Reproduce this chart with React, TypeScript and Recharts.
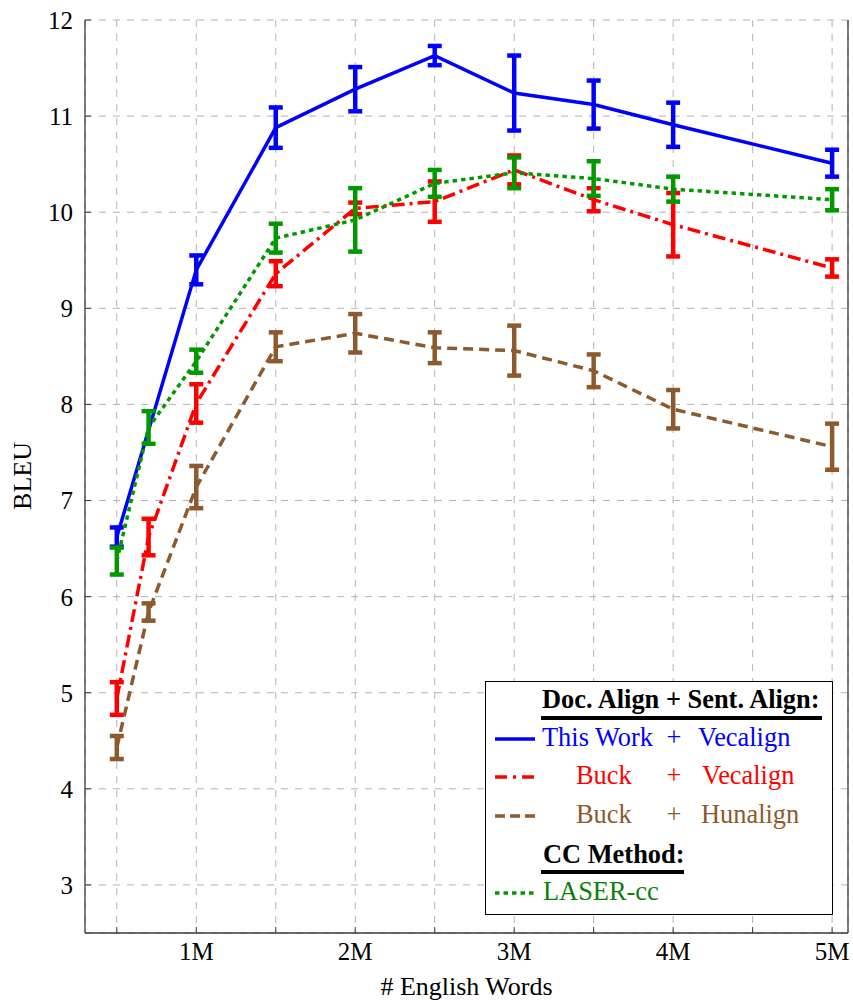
import React from 'react';
import { LineChart, Line, XAxis, YAxis, CartesianGrid, ErrorBar } from 'recharts';

// x positions (millions of English words)
const xValues = [0.5, 0.7, 1, 1.5, 2, 2.5, 3, 3.5, 4, 5];

// This Work + Vecalign (no visible point at 0.7M)
const thisWorkVecalign = [6.62, null, 9.4, 10.88, 11.28, 11.63, 11.24, 11.12, 10.91, 10.51];
const thisWorkVecalignErr = [0.1, null, 0.15, 0.21, 0.23, 0.1, 0.39, 0.25, 0.23, 0.14];

// Buck + Vecalign
const buckVecalign = [4.94, 6.62, 8.01, 9.36, 10.04, 10.11, 10.44, 10.13, 9.87, 9.42];
const buckVecalignErr = [0.17, 0.19, 0.2, 0.13, 0.06, 0.21, 0.15, 0.12, 0.33, 0.09];

// Buck + Hunalign
const buckHunalign = [4.43, 5.84, 7.14, 8.6, 8.74, 8.59, 8.56, 8.35, 7.95, 7.56];
const buckHunalignErr = [0.12, 0.09, 0.22, 0.15, 0.2, 0.16, 0.26, 0.17, 0.2, 0.24];

// LASER-cc
const laserCc = [6.37, 7.76, 8.45, 9.73, 9.92, 10.3, 10.41, 10.35, 10.24, 10.13];
const laserCcErr = [0.14, 0.17, 0.12, 0.15, 0.33, 0.14, 0.16, 0.18, 0.13, 0.11];

const xTicks = [0.5, 1, 1.5, 2, 2.5, 3, 3.5, 4, 4.5, 5];
const yTicks = [3, 4, 5, 6, 7, 8, 9, 10, 11, 12];

const data = xValues.map((x, i) => ({
  x,
  tw: thisWorkVecalign[i],
  twErr: thisWorkVecalignErr[i],
  bv: buckVecalign[i],
  bvErr: buckVecalignErr[i],
  bh: buckHunalign[i],
  bhErr: buckHunalignErr[i],
  lc: laserCc[i],
  lcErr: laserCcErr[i],
}));

const BLUE = '#0000ff';
const RED = '#ff0000';
const BROWN = '#8c5a2d';
const GREEN = '#009900';
const GREEN_TEXT = '#0a800a';
const FONT = '"Liberation Serif", "Times New Roman", serif';
const FS = 25;
const LFS = 26.4;
const AXIS = '#3a3a3a';

const tickStyle = { fontFamily: FONT, fontSize: FS, fill: '#000' };

const BleuLabel = () => (
  <text
    x={22}
    y={476}
    transform="rotate(-90 22 476)"
    textAnchor="middle"
    dominantBaseline="central"
    style={{ fontFamily: FONT, fontSize: 26, fill: '#000' }}
  >
    BLEU
  </text>
);

const Legend = () => (
  <svg
    width={349}
    height={235}
    style={{ position: 'absolute', left: 485, top: 681, overflow: 'visible' }}
  >
    <rect x={0.5} y={0.5} width={347} height={233} fill="#fff" stroke="#000" strokeWidth={1} />
    <g style={{ fontFamily: FONT, fontSize: LFS }}>
      <text x={57} y={27} fontWeight="bold" fill="#000">Doc. Align + Sent. Align:</text>
      <rect x={56} y={35} width={281} height={4} fill="#000" />

      <line x1={10} x2={50} y1={58} y2={58} stroke={BLUE} strokeWidth={3.5} />
      <text x={57} y={65} fill={BLUE}>This Work</text>
      <text x={189} y={65} fill={BLUE} textAnchor="middle">+</text>
      <text x={213} y={65} fill={BLUE}>Vecalign</text>

      <line x1={10} x2={50} y1={96} y2={96} stroke={RED} strokeWidth={3.5} strokeDasharray="12 6 3 6" />
      <text x={91} y={103} fill={RED}>Buck</text>
      <text x={189} y={103} fill={RED} textAnchor="middle">+</text>
      <text x={217} y={103} fill={RED}>Vecalign</text>

      <line x1={10} x2={50} y1={135} y2={135} stroke={BROWN} strokeWidth={3.5} strokeDasharray="10 5" />
      <text x={91} y={142} fill={BROWN}>Buck</text>
      <text x={189} y={142} fill={BROWN} textAnchor="middle">+</text>
      <text x={216} y={142} fill={BROWN}>Hunalign</text>

      <text x={58} y={182} fontWeight="bold" fill="#000">CC Method:</text>
      <rect x={56} y={189} width={143} height={4} fill="#000" />

      <line x1={10} x2={50} y1={212} y2={212} stroke={GREEN} strokeWidth={3.5} strokeDasharray="4.5 4" />
      <text x={58} y={219} fill={GREEN_TEXT}>LASER-cc</text>
    </g>
  </svg>
);

export default function App() {
  return (
    <div style={{ position: 'absolute', left: 0, top: 0, width: 853, height: 1000, background: '#fff' }}>
      <LineChart
        width={853}
        height={1000}
        data={data}
        margin={{ top: 20, right: 0, bottom: 0, left: 0 }}
      >
        <CartesianGrid stroke="#b3b3b3" strokeDasharray="7 7" strokeWidth={1} xAxisId="bottom" yAxisId="left" />
        <XAxis
          xAxisId="bottom"
          dataKey="x"
          type="number"
          domain={[0.3, 5.1]}
          ticks={xTicks}
          allowDataOverflow
          height={67}
          tickFormatter={(v: number) => (Number.isInteger(v) ? `${v}M` : '')}
          tick={tickStyle}
          tickSize={-6}
          tickMargin={15}
          tickLine={{ stroke: AXIS }}
          axisLine={{ stroke: AXIS, strokeWidth: 1.3 }}
          label={{ value: '# English Words', position: 'insideBottom', offset: 5, style: { fontFamily: FONT, fontSize: 26, fill: '#000' } }}
        />
        <XAxis
          xAxisId="top"
          orientation="top"
          dataKey="x"
          type="number"
          domain={[0.3, 5.1]}
          ticks={xTicks}
          allowDataOverflow
          height={0}
          tick={false}
          tickSize={-6}
          tickLine={{ stroke: AXIS }}
          axisLine={{ stroke: AXIS, strokeWidth: 1.3 }}
        />
        <YAxis
          yAxisId="left"
          type="number"
          domain={[2.5, 12]}
          ticks={yTicks}
          allowDataOverflow
          width={85}
          tick={tickStyle}
          tickSize={-6}
          tickMargin={18}
          tickLine={{ stroke: AXIS }}
          axisLine={{ stroke: AXIS, strokeWidth: 1.3 }}
          label={<BleuLabel />}
        />
        <YAxis
          yAxisId="right"
          orientation="right"
          type="number"
          domain={[2.5, 12]}
          ticks={yTicks}
          allowDataOverflow
          width={5}
          tick={false}
          tickSize={-6}
          tickLine={{ stroke: AXIS }}
          axisLine={{ stroke: AXIS, strokeWidth: 1.3 }}
        />
        <Line
          xAxisId="bottom"
          yAxisId="left"
          type="linear"
          dataKey="tw"
          stroke={BLUE}
          strokeWidth={3.5}
          dot={false}
          connectNulls
          isAnimationActive={false}
        >
          <ErrorBar dataKey="twErr" direction="y" width={7} stroke={BLUE} strokeWidth={4.5} />
        </Line>
        <Line
          xAxisId="bottom"
          yAxisId="left"
          type="linear"
          dataKey="bv"
          stroke={RED}
          strokeWidth={3.5}
          strokeDasharray="13 5 3 5"
          dot={false}
          isAnimationActive={false}
        >
          <ErrorBar dataKey="bvErr" direction="y" width={7} stroke={RED} strokeWidth={4.5} />
        </Line>
        <Line
          xAxisId="bottom"
          yAxisId="left"
          type="linear"
          dataKey="bh"
          stroke={BROWN}
          strokeWidth={3.5}
          strokeDasharray="10 6"
          dot={false}
          isAnimationActive={false}
        >
          <ErrorBar dataKey="bhErr" direction="y" width={7} stroke={BROWN} strokeWidth={4.5} />
        </Line>
        <Line
          xAxisId="bottom"
          yAxisId="left"
          type="linear"
          dataKey="lc"
          stroke={GREEN}
          strokeWidth={3.5}
          strokeDasharray="4.5 4"
          dot={false}
          isAnimationActive={false}
        >
          <ErrorBar dataKey="lcErr" direction="y" width={7} stroke={GREEN} strokeWidth={4.5} />
        </Line>
      </LineChart>
      <Legend />
    </div>
  );
}
